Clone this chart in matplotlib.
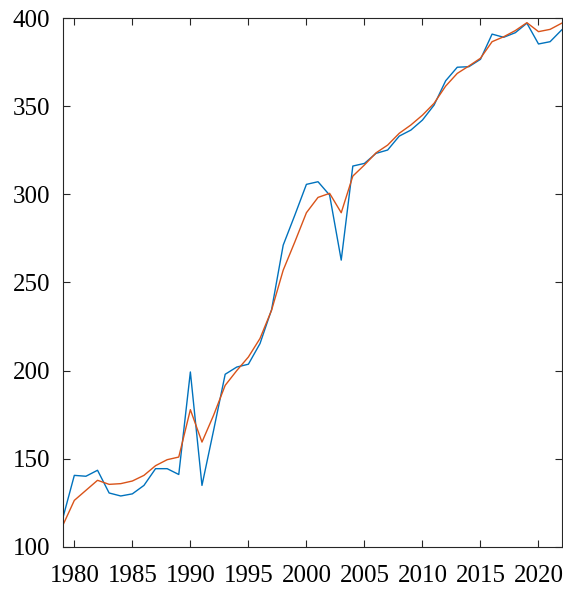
import numpy as np
import matplotlib.pyplot as plt

# years 1979-2022
years = np.arange(1979, 2023)

observed = [116, 140.5, 140, 143.4, 130.5, 128.8, 130, 134.8, 144.3, 144.3,
            141, 199.2, 134.8, 166, 197.9, 202, 203.6, 215.3, 234.6, 271.2,
            288.2, 305.7, 307.2, 299.6, 262.7, 316.1, 317.6, 323.3, 325.2, 333.1,
            336.5, 342.2, 350.7, 364.5, 372.2, 372.5, 376.7, 391, 389.2, 391.8,
            397.2, 385.4, 386.7, 393.4]

fitted = [112, 126.3, 132, 137.7, 135.4, 135.8, 137.3, 140.5, 146, 149.4,
          150.9, 177.8, 159.4, 174.6, 191.6, 200, 207.7, 218.2, 234.3, 257,
          273, 289.6, 298.3, 300.6, 289.6, 310.4, 316.7, 323.6, 328, 334.7,
          339.4, 345, 351.7, 361.5, 368.7, 372.9, 377.3, 386.7, 389.5, 393,
          397.5, 392.4, 393.7, 397.2]

plt.rcParams['font.family'] = ['Liberation Serif', 'DejaVu Serif']
plt.rcParams['font.size'] = 18

fig = plt.figure(figsize=(5.63, 5.89), dpi=100)
ax = fig.add_axes([0.1114, 0.0718, 0.8863, 0.8972])

ax.plot(years, observed, color='#0072BD', lw=1.0)
ax.plot(years, fitted, color='#D95319', lw=1.0)

ax.set_xlim(1979, 2022)
ax.set_ylim(100, 400)
ax.set_xticks(np.arange(1980, 2021, 5))
ax.set_yticks(np.arange(100, 401, 50))
ax.tick_params(direction='in', top=True, right=True, length=5, width=0.8,
               colors='#262626', labelcolor='black')
ax.tick_params(axis='x', pad=13)
ax.tick_params(axis='y', pad=9)
for s in ax.spines.values():
    s.set_color('#262626')
    s.set_linewidth(0.8)

fig.savefig('out.png', dpi=100)
